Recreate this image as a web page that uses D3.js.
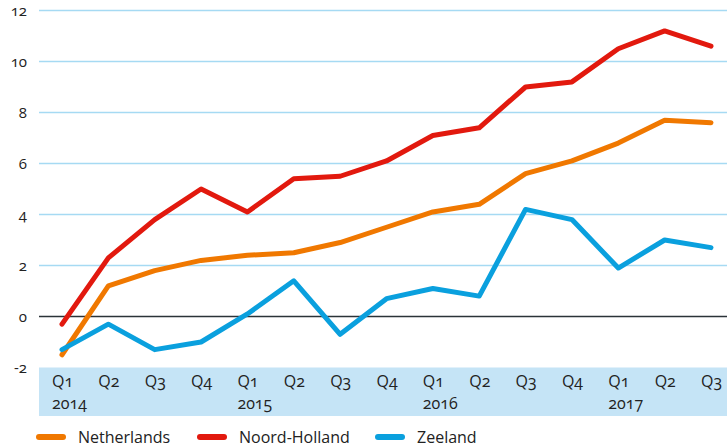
<!DOCTYPE html>
<html>
<head>
<meta charset="utf-8">
<script src="https://cdn.jsdelivr.net/npm/d3@7"></script>
<style>
  body { margin: 0; background: #fff; }
  svg text { font-family: "Open Sans", Lato, sans-serif; fill: #222; font-variant-numeric: oldstyle-nums; }
</style>
</head>
<body>
<div id="chart"></div>
<script>
var quarters = ["Q1","Q2","Q3","Q4","Q1","Q2","Q3","Q4","Q1","Q2","Q3","Q4","Q1","Q2","Q3"];
var years = ["2014","","","","2015","","","","2016","","","","2017","",""];
var netherlands = [-1.5, 1.2, 1.8, 2.2, 2.4, 2.5, 2.9, 3.5, 4.1, 4.4, 5.6, 6.1, 6.8, 7.7, 7.6];
var noordHolland = [-0.3, 2.3, 3.8, 5.0, 4.1, 5.4, 5.5, 6.1, 7.1, 7.4, 9.0, 9.2, 10.5, 11.2, 10.6];
var zeeland = [-1.3, -0.3, -1.3, -1.0, 0.1, 1.4, -0.7, 0.7, 1.1, 0.8, 4.2, 3.8, 1.9, 3.0, 2.7];
var yTicks = [-2, 0, 2, 4, 6, 8, 10, 12];

var series = [
  {name: "Netherlands", values: netherlands, color: "#F07800"},
  {name: "Noord-Holland", values: noordHolland, color: "#E2190E"},
  {name: "Zeeland", values: zeeland, color: "#0AA0DE"}
];

var width = 727, height = 448;
var left = 39, right = 727;

var svg = d3.select("#chart").append("svg")
  .attr("width", width).attr("height", height);

var x = d3.scalePoint().domain(d3.range(quarters.length)).range([62, 711]);
var y = d3.scaleLinear().domain([-2, 12]).range([367.5, 10.5]);

// gridlines
svg.append("g").selectAll("line")
  .data(yTicks.filter(function(d){ return d > 0; }))
  .enter().append("line")
  .attr("x1", left).attr("x2", right)
  .attr("y1", function(d){ return y(d); }).attr("y2", function(d){ return y(d); })
  .attr("stroke", "#A6DAF3").attr("stroke-width", 1.5);

// x band
svg.append("rect")
  .attr("x", left).attr("y", y(-2))
  .attr("width", right - left).attr("height", 48.5)
  .attr("fill", "#C5E4F6");

// zero line
svg.append("line")
  .attr("x1", left).attr("x2", right)
  .attr("y1", y(0)).attr("y2", y(0))
  .attr("stroke", "#2b3338").attr("stroke-width", 1.5);

// y labels
svg.append("g").selectAll("text")
  .data(yTicks).enter().append("text")
  .attr("x", 27).attr("y", function(d){ return y(d) + 5; })
  .attr("text-anchor", "end")
  .style("font-size", "15px")
  .text(function(d){ return d; });

// x labels
var xl = svg.append("g");
xl.selectAll("text.q").data(quarters).enter().append("text")
  .attr("class", "q")
  .attr("x", function(d, i){ return x(i) - 10; })
  .attr("y", 387)
  .style("font-size", "16px")
  .text(function(d){ return d; });
xl.selectAll("text.yr").data(years).enter().append("text")
  .attr("class", "yr")
  .attr("x", function(d, i){ return x(i) - 10; })
  .attr("y", 409)
  .style("font-size", "16px")
  .text(function(d){ return d; });

// lines
var line = d3.line()
  .x(function(d, i){ return x(i); })
  .y(function(d){ return y(d); });

svg.append("g").selectAll("path")
  .data(series).enter().append("path")
  .attr("d", function(d){ return line(d.values); })
  .attr("fill", "none")
  .attr("stroke", function(d){ return d.color; })
  .attr("stroke-width", 5)
  .attr("stroke-linejoin", "round")
  .attr("stroke-linecap", "round");

// legend
var legX = [39, 200, 378];
var leg = svg.append("g").selectAll("g")
  .data(series).enter().append("g")
  .attr("transform", function(d, i){ return "translate(" + legX[i] + ",437)"; });
leg.append("line")
  .attr("x1", 0).attr("x2", 24)
  .attr("stroke", function(d){ return d.color; })
  .attr("stroke-width", 6).attr("stroke-linecap", "round");
leg.append("text")
  .attr("x", 39).attr("y", 6)
  .style("font-size", "16px")
  .text(function(d){ return d.name; });
</script>
</body>
</html>
